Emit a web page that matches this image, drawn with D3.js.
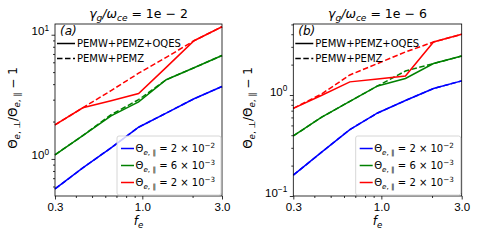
<!DOCTYPE html>
<html>
<head>
<meta charset="utf-8">
<script src="https://cdn.jsdelivr.net/npm/d3@7"></script>
<style>
  body { margin: 0; background: #fff; }
  svg { font-family: "DejaVu Sans", sans-serif; }
  .axis path, .axis line { stroke: #000; stroke-width: 0.8; }
  .axis text { font-size: 11.5px; fill: #000; }
</style>
</head>
<body>
<svg id="chart" width="480" height="240"></svg>
<script>
// f_e sample points (shared by every curve)
const fe = [0.3, 0.44, 0.65, 0.95, 1.39, 2.04, 3.0];
const xTicks = [0.3, 1.0, 3.0];

// panel (a): gamma_g/omega_ce = 1e-2
const blueA = [0.573, 0.846, 1.23, 1.80, 2.34, 3.05, 3.83];
const greenA = [1.08, 1.54, 2.22, 2.88, 4.34, 5.42, 6.81];
const redA = [1.88, 2.58, 2.94, 3.36, 5.46, 8.95, 11.6];
const blueADash = [0.573, 0.846, 1.23, 1.80, 2.34, 3.05, 3.83];
const greenADash = [1.08, 1.54, 2.27, 3.0, 4.34, 5.42, 6.81];
const redADash = [1.88, 2.58, 3.55, 4.9, 6.57, 8.95, 11.6];

// panel (b): gamma_g/omega_ce = 1e-6
const blueB = [0.161, 0.27, 0.455, 0.664, 0.882, 1.16, 1.38];
const greenB = [0.393, 0.601, 0.866, 1.23, 1.46, 2.05, 2.43];
const redB = [0.738, 0.99, 1.35, 1.44, 1.54, 3.35, 3.99];
const blueBDash = [0.161, 0.27, 0.455, 0.664, 0.882, 1.16, 1.38];
const greenBDash = [0.393, 0.601, 0.866, 1.23, 1.73, 2.05, 2.43];
const redBDash = [0.738, 1.02, 1.58, 2.05, 2.67, 3.35, 3.99];

const thetaPar = ["2", "6", "2"];
const thetaExp = ["−2", "−3", "−3"];
const colors = ["#0000ff", "#008000", "#ff0000"];

const svg = d3.select("#chart");

// write a bit of mathtext: parts are [text, kind] where kind is "", "i", "sub", "isub", "sup"
function mathText(sel, parts, size) {
  let shift = 0;
  parts.forEach(([t, kind]) => {
    let target = 0, fs = size, style = "normal";
    if (kind.includes("sub")) { target = size * 0.25; fs = size * 0.72; }
    if (kind.includes("sup")) { target = -size * 0.4; fs = size * 0.72; }
    if (kind.includes("i")) style = "italic";
    sel.append("tspan")
      .attr("dy", target - shift)
      .style("font-size", fs + "px")
      .style("font-style", style)
      .text(t);
    shift = target;
  });
}

class LogPanel {
  constructor(cfg) {
    this.cfg = cfg;
    this.initVis();
  }

  initVis() {
    let vis = this, c = vis.cfg;
    vis.g = svg.append("g").attr("transform", `translate(${c.left},${c.top})`);
    vis.width = c.right - c.left;
    vis.height = c.bottom - c.top;

    vis.x = d3.scaleLog().domain([0.3, 3.0]).range([0, vis.width]);
    vis.y = d3.scaleLog().domain(c.yDomain).range([vis.height, 0]);

    // minor ticks first
    const xMinor = [0.4, 0.5, 0.6, 0.7, 0.8, 0.9, 2.0];
    vis.g.append("g").attr("class", "axis")
      .attr("transform", `translate(0,${vis.height})`)
      .call(d3.axisBottom(vis.x).tickValues(xMinor).tickSize(2).tickFormat(""))
      .call(g => g.select(".domain").remove());
    vis.g.append("g").attr("class", "axis")
      .call(d3.axisLeft(vis.y).tickValues(c.yMinor).tickSize(2).tickFormat(""))
      .call(g => g.select(".domain").remove());

    vis.g.append("g").attr("class", "axis")
      .attr("transform", `translate(0,${vis.height})`)
      .call(d3.axisBottom(vis.x).tickValues(xTicks).tickSize(3.5).tickPadding(3)
        .tickFormat(d3.format(".1f")))
      .call(g => g.select(".domain").remove());

    const yAx = vis.g.append("g").attr("class", "axis")
      .call(d3.axisLeft(vis.y).tickValues(c.yMajor).tickSize(3.5).tickPadding(3).tickFormat(""))
      .call(g => g.select(".domain").remove());
    yAx.selectAll(".tick").each(function(d) {
      const t = d3.select(this).append("text")
        .attr("x", -6).attr("dy", "0.55em")
        .attr("text-anchor", "end");
      mathText(t, [["10", ""], [String(Math.round(Math.log10(d))).replace("-", "−"), "sup"]], 11.5);
    });

    vis.line = d3.line().x((d, i) => vis.x(fe[i])).y(d => vis.y(d));
    vis.clip = "clip" + c.tag;
    vis.g.append("clipPath").attr("id", vis.clip)
      .append("rect").attr("width", vis.width).attr("height", vis.height);
  }

  updateVis() {
    let vis = this, c = vis.cfg;
    const lines = vis.g.append("g").attr("clip-path", `url(#${vis.clip})`);
    c.dashed.forEach((s, i) => {
      lines.append("path").datum(s)
        .attr("fill", "none").attr("stroke", colors[i])
        .attr("stroke-width", 1.5).attr("stroke-dasharray", "5.5,2.5")
        .attr("d", vis.line);
    });
    c.solid.forEach((s, i) => {
      lines.append("path").datum(s)
        .attr("fill", "none").attr("stroke", colors[i])
        .attr("stroke-width", 1.5)
        .attr("d", vis.line);
    });

    // frame
    vis.g.append("rect").attr("width", vis.width).attr("height", vis.height)
      .attr("fill", "none").attr("stroke", "#000").attr("stroke-width", 0.8);

    // title
    const title = vis.g.append("text").attr("x", vis.width / 2).attr("y", -6)
      .attr("text-anchor", "middle").style("font-size", "12.5px");
    mathText(title, [["γ", "i"], ["g", "isub"], ["/ω", "i"], ["ce", "isub"], [" = 1e − " + c.expo, ""]], 12.5);

    // panel tag
    vis.g.append("text").attr("x", 5).attr("y", 11)
      .style("font-size", "12px").style("font-style", "italic").text(c.tag);

    // style legend (black lines)
    const lx = c.styleLegX;
    [["PEMW+PEMZ+OQES", null], ["PEMW+PEMZ", "5.5,2.5"]].forEach(([lab, dash], i) => {
      const yy = 19.5 + i * 15;
      vis.g.append("line").attr("x1", lx).attr("x2", lx + 18).attr("y1", yy).attr("y2", yy)
        .attr("stroke", "#000").attr("stroke-width", 1.5).attr("stroke-dasharray", dash);
      vis.g.append("text").attr("x", lx + 20).attr("y", yy + 3.6)
        .style("font-size", "10px").text(lab);
    });

    // colour legend, lower right
    const bx = c.boxX, by = 112, bw = vis.width - bx - 1, bh = 59;
    vis.g.append("rect").attr("x", bx).attr("y", by).attr("width", bw).attr("height", bh)
      .attr("rx", 2).attr("fill", "#fff").attr("fill-opacity", 0.8)
      .attr("stroke", "#cccccc").attr("stroke-width", 0.8);
    thetaPar.forEach((v, i) => {
      const yy = by + 12.5 + i * 17;
      vis.g.append("line").attr("x1", bx + 4).attr("x2", bx + 17).attr("y1", yy).attr("y2", yy)
        .attr("stroke", colors[i]).attr("stroke-width", 1.5);
      const t = vis.g.append("text").attr("x", bx + 18.5).attr("y", yy + 3.6)
        .style("font-size", "10px");
      mathText(t, [["Θ", ""], ["e", "isub"], [", ∥", "sub"], [" = " + v + " × 10", ""], [thetaExp[i], "sup"]], 10);
    });

    // axis labels
    const xl = vis.g.append("text").attr("x", vis.width / 2).attr("y", vis.height + 29)
      .attr("text-anchor", "middle").style("font-size", "12px");
    mathText(xl, [["f", "i"], ["e", "isub"]], 12);

    const yl = vis.g.append("text")
      .attr("transform", `translate(${c.yLabX},${vis.height / 2 - 2}) rotate(-90)`)
      .attr("text-anchor", "middle").style("font-size", "12px");
    mathText(yl, [["Θ", ""], ["e", "isub"], [", ⊥", "sub"], ["/Θ", ""], ["e", "isub"], [", ∥", "sub"], [" − 1", ""]], 12);
  }
}

const panelA = new LogPanel({
  tag: "(a)", expo: "2", left: 55, right: 222, top: 24, bottom: 196,
  yDomain: [0.503, 12.2], yMajor: [1, 10],
  yMinor: [0.6, 0.7, 0.8, 0.9, 2, 3, 4, 5, 6, 7, 8, 9],
  solid: [blueA, greenA, redA], dashed: [blueADash, greenADash, redADash],
  styleLegX: 2, boxX: 62, yLabX: -38
});
panelA.updateVis();

const panelB = new LogPanel({
  tag: "(b)", expo: "6", left: 293.3, right: 461.7, top: 24, bottom: 196,
  yDomain: [0.1, 5.05], yMajor: [0.1, 1],
  yMinor: [0.2, 0.3, 0.4, 0.5, 0.6, 0.7, 0.8, 0.9, 2, 3, 4, 5],
  solid: [blueB, greenB, redB], dashed: [blueBDash, greenBDash, redBDash],
  styleLegX: 2, boxX: 62.4, yLabX: -41
});
panelB.updateVis();
</script>
</body>
</html>
